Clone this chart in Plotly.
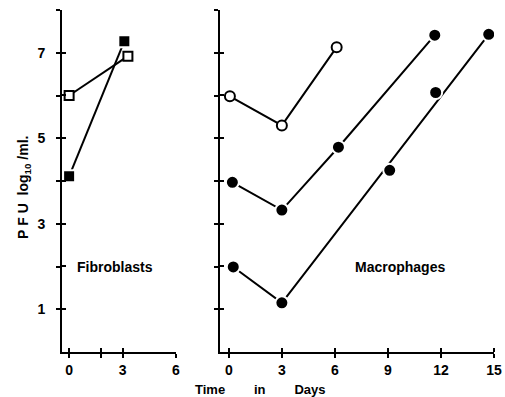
import plotly.graph_objects as go

# Data
fib_days = [0, 3.3]
fib_open = [6.0, 6.92]
fib_filled_days = [0, 3.1]
fib_filled = [4.11, 7.27]

mac_open_days = [0.06, 3.0, 6.1]
mac_open = [5.98, 5.30, 7.13]
mac_mid_days = [0.2, 3.0, 6.2, 11.65]
mac_mid = [3.97, 3.32, 4.79, 7.41]
mac_low_days = [0.25, 3.0, 9.1, 11.7, 14.7]
mac_low = [1.99, 1.15, 4.25, 6.07, 7.43]
mac_low_line_idx = [0, 1, 4]  # points joined by the drawn line

y_ticks = [1, 2, 3, 4, 5, 6, 7, 8]
y_ticktext = ["1", "", "3", "", "5", "", "7", ""]
fib_xticks = [0, 1.8, 3, 6]
fib_xticktext = ["0", "", "3", "6"]
mac_xticks = [0, 3, 6, 9, 12, 15]

FONT = "Liberation Sans"
W, H = 505, 397

fig = go.Figure()

def line(x, y, xa, ya):
    fig.add_trace(go.Scatter(x=x, y=y, xaxis=xa, yaxis=ya, mode="lines",
                             line=dict(color="black", width=2), showlegend=False,
                             hoverinfo="skip"))

def pts(x, y, xa, ya, symbol, size, filled):
    fig.add_trace(go.Scatter(
        x=x, y=y, xaxis=xa, yaxis=ya, mode="markers", showlegend=False,
        marker=dict(symbol=symbol, size=size,
                    color="black" if filled else "white",
                    line=dict(color="white" if filled else "black", width=2))))

# Fibroblasts
line(fib_days, fib_open, "x", "y")
line(fib_filled_days, fib_filled, "x", "y")
pts(fib_days, fib_open, "x", "y", "square", 9, False)
pts(fib_filled_days, fib_filled, "x", "y", "square", 12, True)

# Macrophages
line(mac_open_days, mac_open, "x2", "y2")
line(mac_mid_days, mac_mid, "x2", "y2")
line([mac_low_days[i] for i in mac_low_line_idx],
     [mac_low[i] for i in mac_low_line_idx], "x2", "y2")
pts(mac_open_days, mac_open, "x2", "y2", "circle", 10, False)
pts(mac_mid_days, mac_mid, "x2", "y2", "circle", 13, True)
pts(mac_low_days, mac_low, "x2", "y2", "circle", 13, True)

ydom = [(H - 352) / H, (H - 10) / H]
axis_common = dict(showline=True, linecolor="black", linewidth=2, showgrid=False,
                   zeroline=False, ticks="outside", ticklen=4, tickwidth=2,
                   tickcolor="black", automargin=False,
                   tickfont=dict(family=FONT, size=14, color="black", weight="bold"))

def minor(vals):
    # inner half of the crossing tick marks (nudged so they are not merged with majors)
    return dict(tickvals=[v + 1e-3 for v in vals], ticks="inside", ticklen=4,
                tickwidth=2, tickcolor="black", showgrid=False)

fig.update_layout(
    width=W, height=H, margin=dict(l=0, r=0, t=0, b=0),
    paper_bgcolor="white", plot_bgcolor="white",
    xaxis=dict(domain=[62 / W, 176 / W], range=[-0.4, 6], tickvals=fib_xticks,
               ticktext=fib_xticktext, minor=minor(fib_xticks), anchor="y",
               **axis_common),
    yaxis=dict(domain=ydom, range=[0, 8], tickvals=y_ticks, ticktext=y_ticktext,
               minor=minor(y_ticks), anchor="x", **axis_common),
    xaxis2=dict(domain=[220 / W, 494 / W], range=[-0.5, 15], tickvals=mac_xticks,
                minor=minor(mac_xticks), anchor="y2", **axis_common),
    yaxis2=dict(domain=ydom, range=[0, 8], tickvals=y_ticks, showticklabels=False,
                minor=minor(y_ticks), anchor="x2", **axis_common),
)
fig.update_xaxes(ticklabelstandoff=0)
fig.update_yaxes(ticklabelstandoff=8)

fig.add_annotation(x=2.6, y=1.98, xref="x", yref="y", text="<b>Fibroblasts</b>",
                   showarrow=False, font=dict(family=FONT, size=14, color="black"))
fig.add_annotation(x=9.7, y=1.98, xref="x2", yref="y2", text="<b>Macrophages</b>",
                   showarrow=False, font=dict(family=FONT, size=14, color="black"))
sp = "\u00a0" * 8
fig.add_annotation(x=260 / W, y=0, xref="paper", yref="paper", yanchor="bottom",
                   yshift=-2,
                   text="<b>Time" + sp + "in" + sp + "Days</b>",
                   showarrow=False, font=dict(family=FONT, size=13, color="black"))
fig.add_annotation(x=13 / W, y=(H - 188) / H, xref="paper", yref="paper",
                   text="<b>P\u00a0F\u00a0U\u00a0\u00a0log<sub>10</sub>\u00a0/ml.</b>",
                   textangle=-90, showarrow=False,
                   font=dict(family=FONT, size=14, color="black"))

fig.write_html("out.html", config={"displayModeBar": False},
               post_script="document.body.style.margin='0';")
